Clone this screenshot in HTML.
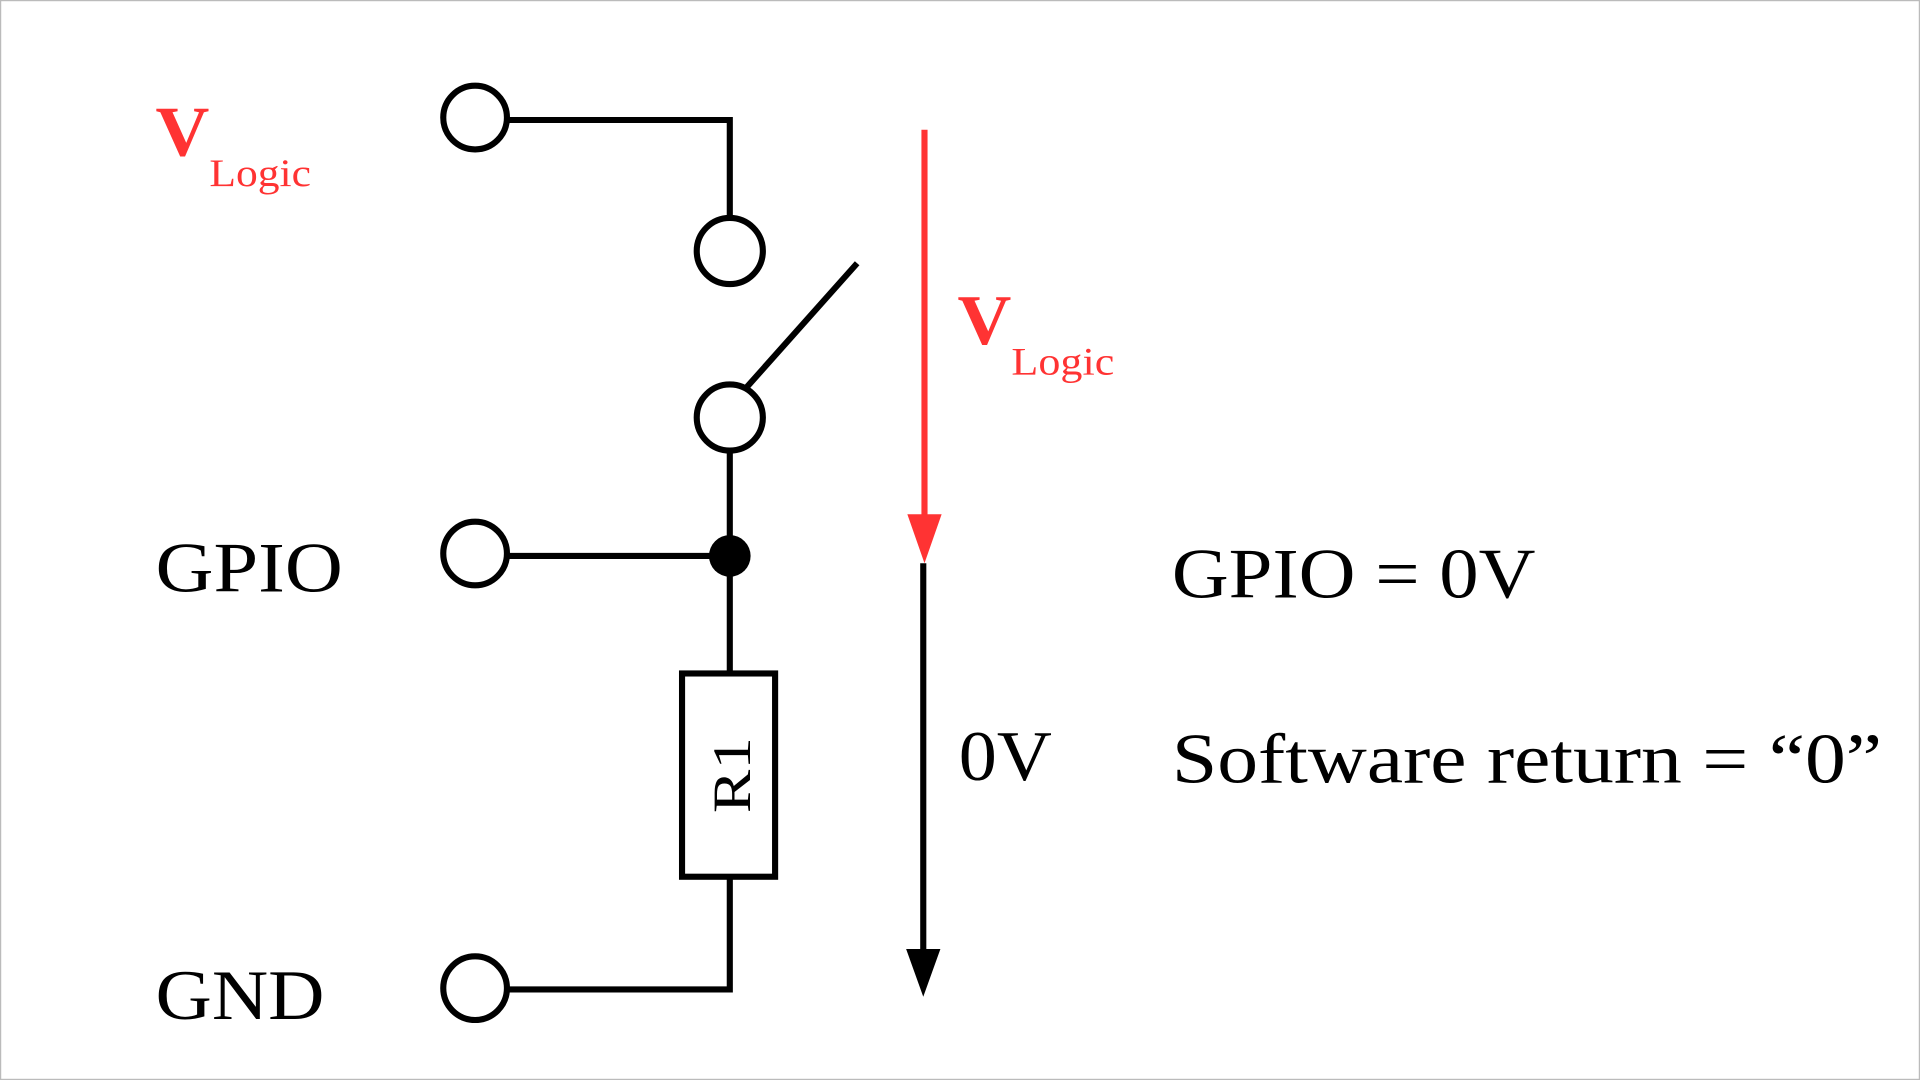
<!DOCTYPE html>
<html><head><style>html,body{margin:0;padding:0;background:#fff}svg{display:block}</style></head>
<body>
<svg width="1920" height="1080" viewBox="0 0 1568 882" xmlns="http://www.w3.org/2000/svg" font-family="'Liberation Serif', serif">
<rect x="0.5" y="0.5" width="1567" height="881" fill="#fff" stroke="#bbb" stroke-width="1"/>
<g fill="none" stroke="#000" stroke-width="5">
<polyline points="414,98 596,98 596,178"/>
<circle cx="388" cy="96" r="26" fill="#fff"/>
<circle cx="596" cy="205" r="27" fill="#fff"/>
<line x1="610" y1="316" x2="700" y2="215"/>
<circle cx="596" cy="341" r="27" fill="#fff"/>
<line x1="596" y1="368" x2="596" y2="550"/>
<line x1="414" y1="454" x2="596" y2="454"/>
<circle cx="388" cy="452" r="26" fill="#fff"/>
<rect x="557" y="550" width="76" height="166" fill="#fff"/>
<polyline points="596,716 596,808 414,808"/>
<circle cx="388" cy="807" r="26" fill="#fff"/>
<line x1="754" y1="460" x2="754" y2="778"/>
</g>
<circle cx="596" cy="454" r="17" fill="#000"/>
<polygon points="740,775 768,775 754,814" fill="#000"/>
<line x1="755" y1="106" x2="755" y2="424" stroke="#f33" stroke-width="5"/>
<polygon points="741,420 769,420 755,460" fill="#f33"/>
<text x="598" y="633" font-size="44" text-anchor="middle" dominant-baseline="central" transform="rotate(-90 598 633)" textLength="62" lengthAdjust="spacingAndGlyphs">R1</text>
<g fill="#f33">
<text x="127" y="127" font-size="58" font-weight="bold" textLength="44" lengthAdjust="spacingAndGlyphs">V</text>
<text x="171" y="152" font-size="32" textLength="83" lengthAdjust="spacingAndGlyphs">Logic</text>
<text x="782" y="281" font-size="58" font-weight="bold" textLength="44" lengthAdjust="spacingAndGlyphs">V</text>
<text x="826" y="306" font-size="32" textLength="84" lengthAdjust="spacingAndGlyphs">Logic</text>
</g>
<g fill="#000" font-size="58">
<text x="127" y="483" textLength="153" lengthAdjust="spacingAndGlyphs">GPIO</text>
<text x="127" y="832" textLength="138" lengthAdjust="spacingAndGlyphs">GND</text>
<text x="957" y="488" textLength="297" lengthAdjust="spacingAndGlyphs">GPIO = 0V</text>
<text x="783" y="637" textLength="76" lengthAdjust="spacingAndGlyphs">0V</text>
<text x="957" y="639" textLength="580" lengthAdjust="spacingAndGlyphs">Software return = “0”</text>
</g>
</svg>
</body></html>
